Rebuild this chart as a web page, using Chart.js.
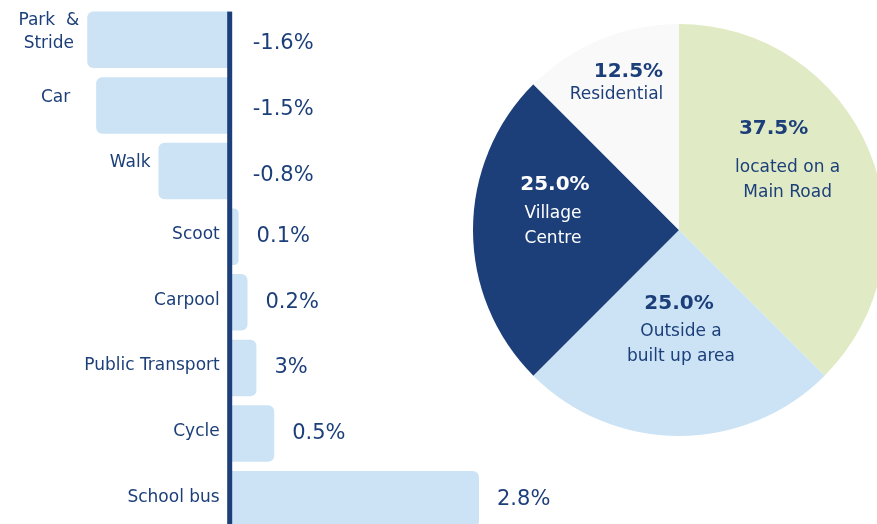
<!DOCTYPE html>
<html lang="en">
<head>
  <meta charset="UTF-8">
  <title>Travel mode change and school location</title>
  <script src="https://cdn.jsdelivr.net/npm/chart.js"></script>
  <style>
    html, body {
      margin: 0;
      padding: 0;
      width: 877px;
      height: 524px;
      overflow: hidden;
      background: #ffffff;
    }
    .bar-box {
      position: absolute;
      left: 0;
      top: 0;
      width: 560px;
      height: 540px;
    }
    .pie-box {
      position: absolute;
      left: 473px;
      top: 24px;
      width: 412px;
      height: 412px;
    }
  </style>
</head>
<body>
  <div class="bar-box"><canvas id="modeChart"></canvas></div>
  <div class="pie-box"><canvas id="locationChart"></canvas></div>

  <script>
    // change in share by travel mode
    const modes = [['Park  &', 'Stride'], 'Car', 'Walk', 'Scoot', 'Carpool', 'Public Transport', 'Cycle', 'School bus'];
    const modeChange = [-1.6, -1.5, -0.8, 0.1, 0.2, 0.3, 0.5, 2.8];
    const modeLabels = ['-1.6%', '-1.5%', '-0.8%', '0.1%', '0.2%', '3%', '0.5%', '2.8%'];

    // school location split
    const locations = [['located on a', 'Main Road'], ['Outside a', 'built up area'], ['Village', 'Centre'], ['Residential']];
    const locationShare = [37.5, 25.0, 25.0, 12.5];
    const locationColors = ['#e0ebc5', '#cce3f5', '#1c3f7a', '#f9f9f9'];

    const navy = '#1c3f7a';
    const handFont = '17px "DejaVu Sans", sans-serif';

    // axis line + labels for the bar chart
    const barLabels = {
      id: 'barLabels',
      afterDatasetsDraw(chart) {
        const ctx = chart.ctx;
        const bars = chart.getDatasetMeta(0).data;
        const first = bars[0].getProps(['y', 'height'], true);
        const base = bars[0].getProps(['base'], true).base;

        ctx.save();
        ctx.fillStyle = navy;
        ctx.fillRect(base - 2.5, first.y - first.height / 2, 5, chart.height);

        bars.forEach((bar, i) => {
          const p = bar.getProps(['x', 'y', 'base', 'height'], true);
          const v = modeChange[i];
          const lines = Array.isArray(modes[i]) ? modes[i] : [modes[i]];

          ctx.font = handFont;
          ctx.fillStyle = navy;
          ctx.textBaseline = 'middle';
          if (v < 0) {
            const w = Math.max(...lines.map(l => ctx.measureText(l).width));
            const cx = p.x - (i === 1 ? 26 : 8) - w / 2;
            const cy = p.y - 8;
            ctx.textAlign = 'center';
            lines.forEach((l, j) => {
              ctx.fillText(l, cx, cy + (j - (lines.length - 1) / 2) * 23);
            });
          } else {
            ctx.textAlign = 'right';
            ctx.fillText(lines[0], p.base - 10, p.y - 2);
          }

          ctx.font = '21px "DejaVu Sans", sans-serif';
          ctx.textAlign = 'left';
          if (v < 0) {
            ctx.fillText(modeLabels[i], p.base + 23, p.y + 4);
          } else {
            ctx.fillText(modeLabels[i], p.x + 18, p.y);
          }
        });
        ctx.restore();
      }
    };

    new Chart(document.getElementById('modeChart'), {
      type: 'bar',
      data: {
        labels: modes,
        datasets: [{
          data: modeChange,
          backgroundColor: '#cce3f5',
          borderRadius: 6,
          borderSkipped: 'start',
          barPercentage: 0.86,
          categoryPercentage: 1
        }]
      },
      options: {
        indexAxis: 'y',
        responsive: true,
        maintainAspectRatio: false,
        animation: false,
        layout: { padding: { top: 7, bottom: 8 } },
        plugins: {
          legend: { display: false },
          tooltip: { enabled: false }
        },
        scales: {
          x: { display: false, min: -2.58, max: 3.71 },
          y: { display: false }
        }
      },
      plugins: [barLabels]
    });

    // label placement inside each slice: radius fraction, angle tweak (deg), gap to name
    const sliceRadius = [0.68, 0.35, 0.645, 0.816];
    const sliceTweak = [-25, 0, 21, 5];
    const nameGap = [41, 29, 31, 25];
    const nameShift = [14, 2, -2, -12];

    const pieLabels = {
      id: 'pieLabels',
      afterDatasetsDraw(chart) {
        const ctx = chart.ctx;
        const total = locationShare.reduce((a, b) => a + b, 0);
        ctx.save();
        chart.getDatasetMeta(0).data.forEach((arc, i) => {
          const p = arc.getProps(['x', 'y', 'startAngle', 'endAngle', 'outerRadius'], true);
          const mid = (p.startAngle + p.endAngle) / 2 + sliceTweak[i] * Math.PI / 180;
          const r = p.outerRadius * sliceRadius[i];
          const x = p.x + Math.cos(mid) * r;
          const y = p.y + Math.sin(mid) * r;

          ctx.fillStyle = i === 2 ? '#ffffff' : navy;
          ctx.textAlign = 'center';
          ctx.textBaseline = 'middle';
          ctx.font = 'bold 20px "DejaVu Sans", sans-serif';
          ctx.fillText((locationShare[i] / total * 100).toFixed(1) + '%', x, y + 2);

          ctx.font = handFont;
          locations[i].forEach((l, j) => {
            ctx.fillText(l, x + nameShift[i], y + nameGap[i] + j * 25);
          });
        });
        ctx.restore();
      }
    };

    new Chart(document.getElementById('locationChart'), {
      type: 'pie',
      data: {
        labels: locations.map(l => l.join(' ')),
        datasets: [{
          data: locationShare,
          backgroundColor: locationColors,
          borderWidth: 0
        }]
      },
      options: {
        responsive: true,
        maintainAspectRatio: false,
        animation: false,
        layout: { padding: 0 },
        plugins: {
          legend: { display: false },
          tooltip: { enabled: false }
        }
      },
      plugins: [pieLabels]
    });
  </script>
</body>
</html>
